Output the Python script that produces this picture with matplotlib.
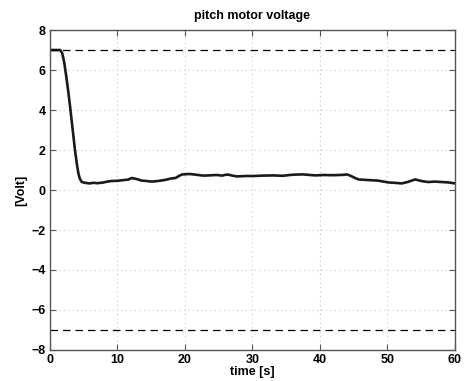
import matplotlib
matplotlib.use("Agg")
import matplotlib.pyplot as plt

# pitch motor voltage
time_s = [0, 1.0, 1.5, 1.8, 2.1, 2.4, 2.7, 3.0, 3.4, 3.7, 4.0, 4.2, 4.4, 4.7, 5.2, 5.8, 6.5,
          7.0, 7.8, 8.5, 9.1, 10.0, 11.0, 11.6, 12.1, 12.8, 13.6, 14.3, 15.1, 16.0,
          17.0, 18.0, 18.6, 19.2, 19.6, 20.7, 21.5, 22.7, 23.5, 24.7, 25.5, 26.0,
          26.4, 27.0, 27.7, 29.0, 30.1, 31.5, 33.1, 34.5, 35.5, 36.3, 37.5, 39.3,
          40.5, 42.0, 43.5, 44.0, 44.6, 45.2, 45.7, 47.0, 48.6, 50.1, 51.0, 52.1,
          53.0, 54.1, 55.0, 56.0, 57.0, 58.0, 59.0, 60.0]
voltage = [7.0, 7.0, 7.0, 6.85, 6.4, 5.7, 4.95, 4.1, 2.9, 2.0, 1.25, 0.85, 0.58, 0.4,
           0.36, 0.33, 0.36, 0.34, 0.37, 0.42, 0.45, 0.46, 0.5, 0.52, 0.6, 0.55, 0.47,
           0.45, 0.42, 0.45, 0.5, 0.58, 0.6, 0.72, 0.78, 0.8, 0.77, 0.72, 0.73, 0.75,
           0.72, 0.76, 0.77, 0.72, 0.68, 0.7, 0.7, 0.72, 0.73, 0.71, 0.75, 0.77, 0.78,
           0.73, 0.75, 0.74, 0.76, 0.78, 0.7, 0.6, 0.53, 0.5, 0.47, 0.38, 0.36, 0.33,
           0.4, 0.53, 0.45, 0.4, 0.42, 0.4, 0.38, 0.33]
limit_v = 7.0

xticks = [0, 10, 20, 30, 40, 50, 60]
yticks = [-8, -6, -4, -2, 0, 2, 4, 6, 8]

plt.rcParams['font.family'] = ['Liberation Sans', 'DejaVu Sans']
plt.rcParams['font.weight'] = 'bold'

fig = plt.figure(figsize=(4.69, 3.81), dpi=100)
ax = fig.add_axes([0.1066, 0.0814, 0.8635, 0.8398])

ax.plot(time_s, voltage, color='#1a1a1a', lw=1.9)
ax.axhline(limit_v, color='black', lw=0.9, ls=(0, (6, 4)))
ax.axhline(-limit_v, color='black', lw=0.9, ls=(0, (6, 4)))

ax.set_xlim(0, 60)
ax.set_ylim(-8, 8)
ax.set_xticks(xticks)
ax.set_yticks(yticks)
ax.set_yticklabels([f"{v}".replace('-', '\u2212') for v in yticks])
ax.grid(True, color='#c8c8c8', ls=(0, (1, 3)), lw=0.8)
ax.tick_params(direction='in', top=True, right=True, length=4, labelsize=9,
               color='#555555', pad=3)
for sp in ax.spines.values():
    sp.set_color('#555555')
    sp.set_linewidth(1.0)

ax.set_title('pitch motor voltage', fontsize=9, fontweight='bold', pad=8)
ax.set_xlabel('time [s]', fontsize=9, fontweight='bold', labelpad=0)
ax.set_ylabel('[Volt]', fontsize=9, fontweight='bold', labelpad=3)

fig.savefig('out.png', dpi=100)
